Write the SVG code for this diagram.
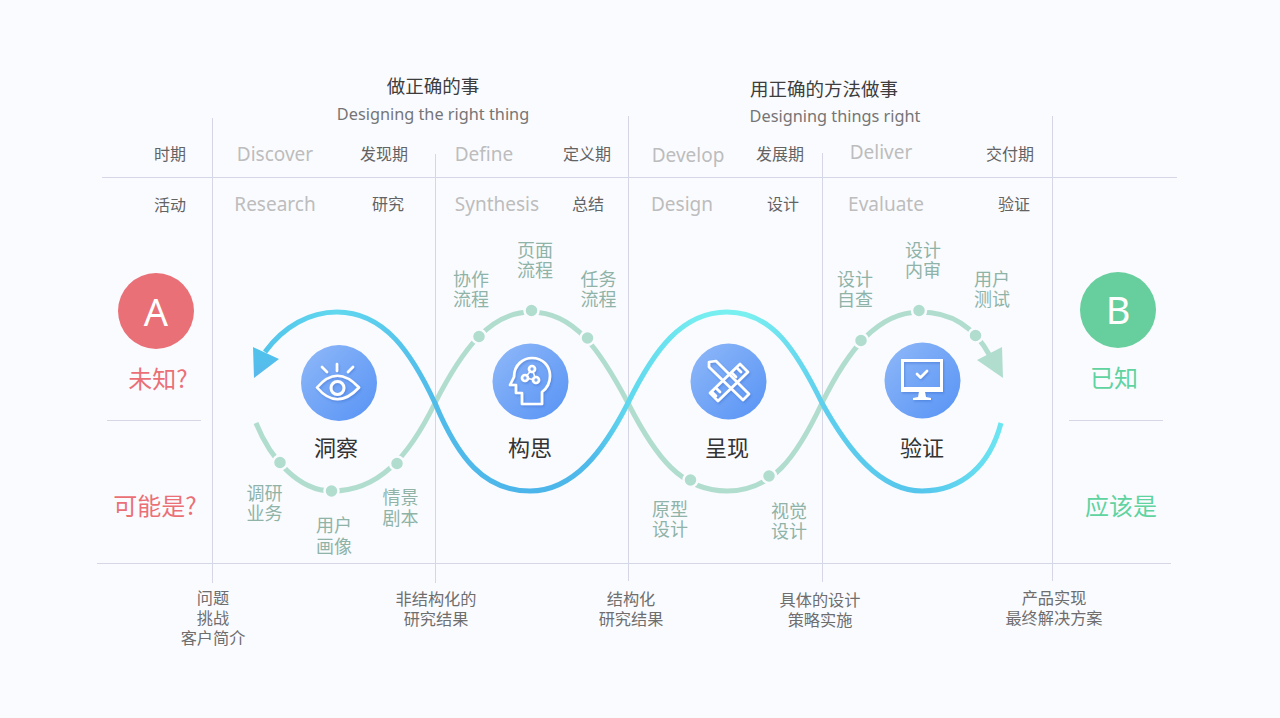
<svg xmlns="http://www.w3.org/2000/svg" width="1280" height="718" viewBox="0 0 1280 718">
<style>
text{font-family:"Noto Sans CJK SC","Noto Sans",sans-serif}
.en{font-family:"Noto Sans","Noto Sans CJK SC",sans-serif}
.gl{stroke:#d6d7e6;stroke-width:1;fill:none}
.h1{font-size:18.500px;fill:#3d3d3d;text-anchor:middle}
.sub{font-size:16.300px;fill:#757575;text-anchor:middle}
.ph{font-size:19px;fill:#bdbdbd;text-anchor:middle}
.cn{font-size:16px;fill:#636363;text-anchor:middle}
.lab{font-size:18px;fill:#8fb3a7;text-anchor:middle}
.name{font-size:22px;fill:#333;text-anchor:middle}
.out{font-size:16.200px;fill:#6e6e6e;text-anchor:middle}
.dot{fill:#b1ddce;stroke:#fafbff;stroke-width:2.500}
.ic{fill:none;stroke:#fff;stroke-width:2.700;stroke-linejoin:round;stroke-linecap:round}
</style>
<defs>
<linearGradient id="wave" gradientUnits="userSpaceOnUse" x1="254" y1="0" x2="1002" y2="0">
<stop offset="0" stop-color="#50c2ea"/><stop offset=".11" stop-color="#62d8ef"/><stop offset=".24" stop-color="#50bcea"/><stop offset=".37" stop-color="#4bb4ea"/><stop offset=".45" stop-color="#4fbaea"/><stop offset=".5" stop-color="#60d8ee"/><stop offset=".6" stop-color="#76eef0"/><stop offset=".66" stop-color="#7af0f0"/><stop offset=".76" stop-color="#5fcfee"/><stop offset=".89" stop-color="#55c5ec"/><stop offset="1" stop-color="#6ce6f2"/>
</linearGradient>
<linearGradient id="disc" x1="0" y1="0" x2="1" y2="1"><stop offset="0" stop-color="#8fb8f8"/><stop offset="1" stop-color="#5793f5"/></linearGradient>
<linearGradient id="tri" x1="0" y1="0" x2="0" y2="1"><stop offset="0" stop-color="#4ec4ec"/><stop offset="1" stop-color="#5ab8ec"/></linearGradient>
<filter id="sh" x="-20%" y="-20%" width="150%" height="150%"><feDropShadow dx="1" dy="1.500" stdDeviation="1.200" flood-color="#2f62c0" flood-opacity=".4"/></filter>
</defs>
<rect width="1280" height="718" fill="#fafbff"/>
<g id="grid">
<path class="gl" d="M102 177.500H1177M97 563.500H1171M107 420.500H201M1069 420.500H1163M212.500 118V583M435.500 154V583M628.500 116V581M822.500 153V582M1052.500 116V581"/>
</g>
<g id="connectors" fill="none">
<path stroke="#b1ddce" stroke-width="5" d="M256 423C270 458 298 491 332 491C378 491 408 458 435 403C462 350 490 312 531 312C574 312 600 350 628 403C656 458 682 491 727 491C772 491 796 458 822 403C848 350 878 312 920 312C952 312 975 328 990 356"/>
<path fill="#b1ddce" d="M1002 347L1003 378L977 360Z"/>
<path stroke="url(#wave)" stroke-width="5" d="M265 352C284 326 310 312 337 312C385 312 412 354 435 403C458 458 484 491 530 491C574 491 604 450 628 403C654 350 682 312 727 312C772 312 796 350 822 403C848 450 880 491 922 491C962 491 990 465 1001 423"/>
<path fill="url(#tri)" d="M253 347L279 359L254 378Z"/>
<circle class="dot" cx="280" cy="462.500" r="7"/><circle class="dot" cx="331.500" cy="491" r="7"/><circle class="dot" cx="397" cy="463.500" r="7"/>
<circle class="dot" cx="479" cy="336.500" r="7"/><circle class="dot" cx="531.500" cy="310.500" r="7"/><circle class="dot" cx="587.500" cy="338" r="7"/>
<circle class="dot" cx="690.500" cy="480" r="7"/><circle class="dot" cx="769" cy="476" r="7"/>
<circle class="dot" cx="861" cy="340.500" r="7"/><circle class="dot" cx="919" cy="310.500" r="7"/><circle class="dot" cx="975.500" cy="335.500" r="7"/>
</g>
<g id="header">
<text class="h1" x="433" y="93">做正确的事</text>
<text class="sub en" x="433" y="120">Designing the right thing</text>
<text class="h1" x="824" y="95.500">用正确的方法做事</text>
<text class="sub en" x="835" y="122">Designing things right</text>
<text class="cn" x="170" y="160">时期</text><text class="cn" x="170" y="211">活动</text>
<text class="ph en" x="275" y="161">Discover</text><text class="cn" x="384" y="160">发现期</text>
<text class="ph en" x="484" y="161">Define</text><text class="cn" x="587" y="160">定义期</text>
<text class="ph en" x="688" y="162">Develop</text><text class="cn" x="780" y="160">发展期</text>
<text class="ph en" x="881" y="159">Deliver</text><text class="cn" x="1010" y="160">交付期</text>
<text class="ph en" x="275" y="211">Research</text><text class="cn" x="388" y="210">研究</text>
<text class="ph en" x="497" y="211">Synthesis</text><text class="cn" x="588" y="210">总结</text>
<text class="ph en" x="682" y="211">Design</text><text class="cn" x="783" y="210">设计</text>
<text class="ph en" x="886" y="211">Evaluate</text><text class="cn" x="1014" y="210">验证</text>
</g>
<g id="node-a">
<circle cx="156" cy="311" r="38" fill="#e97077"/>
<text x="156" y="325.500" font-size="38" fill="#fff" text-anchor="middle" class="en">A</text>
<text x="158" y="388" font-size="24" fill="#ea7076" text-anchor="middle">未知?</text>
<text x="155" y="515" font-size="24" fill="#ea7076" text-anchor="middle">可能是?</text>
</g>
<g id="node-b">
<circle cx="1118" cy="310" r="38" fill="#67cf9d"/>
<text x="1118" y="324" font-size="38" fill="#fff" text-anchor="middle" class="en">B</text>
<text x="1114" y="387" font-size="24" fill="#5fd3a0" text-anchor="middle">已知</text>
<text x="1121" y="515" font-size="24" fill="#5fd3a0" text-anchor="middle">应该是</text>
</g>
<g id="node-insight">
<circle cx="339" cy="383" r="38" fill="url(#disc)"/>
<g class="ic" filter="url(#sh)"><path d="M317 387.500Q337 364 359 387.500Q337 411 317 387.500Z"/><circle cx="337.500" cy="388" r="6.500" stroke-width="3"/><path d="M337 364V371M322 367L327 372M353 367L348 372"/></g>
<text class="name" x="336" y="456">洞察</text>
<text class="lab" y="500"><tspan x="264.500">调研</tspan><tspan x="264.500" dy="20">业务</tspan></text>
<text class="lab" y="532"><tspan x="334">用户</tspan><tspan x="334" dy="20.500">画像</tspan></text>
<text class="lab" y="504"><tspan x="400.500">情景</tspan><tspan x="400.500" dy="20.500">剧本</tspan></text>
</g>
<g id="node-ideate">
<circle cx="530.500" cy="381.500" r="38" fill="url(#disc)"/>
<g class="ic" filter="url(#sh)"><path d="M522 404V393H516V385H510L514 377C514 364 524 358 532 358C543 358 550 366 550 376C550 384 546 389 542 392V404Z"/><path d="M532 369L525 378L536 380Z" stroke-width="1.500"/><circle cx="532" cy="369" r="3" fill="#7aa8f6"/><circle cx="525" cy="378" r="3" fill="#7aa8f6"/><circle cx="536" cy="380" r="3" fill="#7aa8f6"/></g>
<text class="name" x="530" y="456">构思</text>
<text class="lab" y="286"><tspan x="471">协作</tspan><tspan x="471" dy="20">流程</tspan></text>
<text class="lab" y="257"><tspan x="535">页面</tspan><tspan x="535" dy="20">流程</tspan></text>
<text class="lab" y="286"><tspan x="598.500">任务</tspan><tspan x="598.500" dy="20">流程</tspan></text>
</g>
<g id="node-present">
<circle cx="728.500" cy="381.500" r="38" fill="url(#disc)"/>
<g class="ic" filter="url(#sh)"><path d="M709 362L716 361L749 394L743 400L709 367Z"/><path d="M710 393L740 364L748 372L718 401Z"/><path d="M737 368L741 372M732 373L736 377M716 388L720 392M712 392L716 396"/></g>
<text class="name" x="727" y="456">呈现</text>
<text class="lab" y="516"><tspan x="670">原型</tspan><tspan x="670" dy="20">设计</tspan></text>
<text class="lab" y="518"><tspan x="789">视觉</tspan><tspan x="789" dy="20">设计</tspan></text>
</g>
<g id="node-verify">
<circle cx="922.500" cy="380.500" r="38" fill="url(#disc)"/>
<g filter="url(#sh)"><path fill="#fff" fill-rule="evenodd" d="M901 359H943V392H901ZM904 362V387H940V362ZM919 392H925L926 397L931 398V400H913V398L918 397Z"/><path class="ic" stroke-width="3" d="M917 374L920.500 377.500L927 371"/></g>
<text class="name" x="922" y="456">验证</text>
<text class="lab" y="286"><tspan x="855">设计</tspan><tspan x="855" dy="20">自查</tspan></text>
<text class="lab" y="257"><tspan x="923">设计</tspan><tspan x="923" dy="20">内审</tspan></text>
<text class="lab" y="286"><tspan x="992">用户</tspan><tspan x="992" dy="20">测试</tspan></text>
</g>
<g id="outputs">
<text class="out" y="604"><tspan x="213">问题</tspan><tspan x="213" dy="20">挑战</tspan><tspan x="213" dy="19.500">客户简介</tspan></text>
<text class="out" y="605"><tspan x="436">非结构化的</tspan><tspan x="436" dy="20">研究结果</tspan></text>
<text class="out" y="605"><tspan x="631">结构化</tspan><tspan x="631" dy="20">研究结果</tspan></text>
<text class="out" y="606"><tspan x="820">具体的设计</tspan><tspan x="820" dy="20">策略实施</tspan></text>
<text class="out" y="604"><tspan x="1054">产品实现</tspan><tspan x="1054" dy="20">最终解决方案</tspan></text>
</g>
</svg>
